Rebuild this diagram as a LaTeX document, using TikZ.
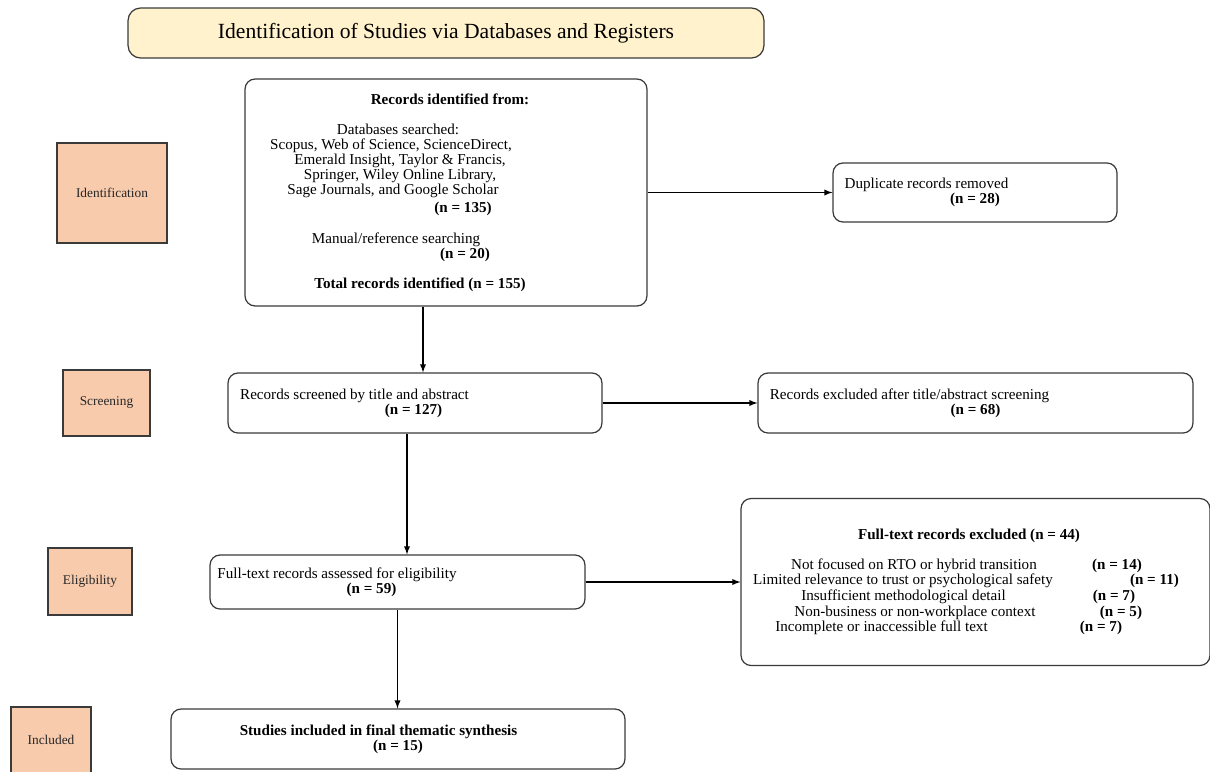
\documentclass[tikz,border=0pt]{standalone}
\usepackage{fontspec}
\setmainfont{Liberation Serif}
\usepackage{xcolor}
\usepackage{tikz}
\usetikzlibrary{arrows}
\usetikzlibrary{positioning}

\definecolor{stagefill}{HTML}{F8CBAD}
\definecolor{titlefill}{HTML}{FFF2CC}
\definecolor{edgegray}{HTML}{3A3A3A}
% one line of a centred block, moved sideways by half of #1
\newcommand{\shline}[2]{\makebox[0pt]{\hspace*{#1}#2}}

\begin{document}
\begin{tikzpicture}[x=0.02cm, y=-0.02cm, >=latex]
          \tikzstyle{stage}=[draw=edgegray,fill=stagefill,line width=0.9pt,text=black!85,inner sep=0pt,font=\fontsize{7.6}{9}\selectfont]
          \tikzstyle{box}=[draw=edgegray,rounded corners=0.2cm,line width=0.7pt,align=center,inner sep=0pt,font=\fontsize{8.6}{8.6}\selectfont]
          \tikzstyle{link}=[->,line width=0.6pt,black]
          \useasboundingbox (0,0) rectangle (1210,771);
          % heading
          \node[box,fill=titlefill,rounded corners=0.25cm,minimum width=12.72cm,minimum height=1cm,font=\fontsize{12.3}{14}\selectfont] (title) at (446,33) {Identification of Studies via Databases and Registers};
          % stages on the left
          \node[stage,minimum width=2.2cm,minimum height=2cm] (identification) at (112,193) {Identification};
          \node[stage,minimum width=1.74cm,minimum height=1.32cm] (screening) at (106.5,403) {Screening};
          \node[stage,minimum width=1.68cm,minimum height=1.34cm] (eligibility) at (90,581.5) {Eligibility};
          \node[stage,minimum width=1.6cm,minimum height=1.32cm] (included) at (51,740) {Included};
          % main column
          \node[box,minimum width=8.04cm,minimum height=4.54cm] (records) at (446,192.5) {
            \shline{0.16cm}{\textbf{Records identified from:}}\\[8.6pt]
            \shline{-1.92cm}{Databases searched:}\\
            \shline{-2.2cm}{Scopus, Web of Science, ScienceDirect,}\\
            \shline{-1.84cm}{Emerald Insight, Taylor \& Francis,}\\
            \shline{-1.84cm}{Springer, Wiley Online Library,}\\
            \shline{-2.12cm}{Sage Journals, and Google Scholar}\\[1.7pt]
            \shline{0.68cm}{\textbf{(n = 135)}}\\[8.6pt]
            \shline{-2cm}{Manual/reference searching}\\
            \shline{0.76cm}{\textbf{(n = 20)}}\\[8.6pt]
            \shline{-1.04cm}{\textbf{Total records identified (n = 155)}}};
          \node[box,minimum width=7.48cm,minimum height=1.2cm] (screened) at (415,403) {\shline{-2.42cm}{Records screened by title and abstract}\\ \shline{-0.06cm}{\textbf{(n = 127)}}};
          \node[box,minimum width=7.5cm,minimum height=1.08cm] (fulltext) at (397.5,582) {\shline{-2.42cm}{Full-text records assessed for eligibility}\\ \shline{-1.04cm}{\textbf{(n = 59)}}};
          \node[box,minimum width=9.08cm,minimum height=1.2cm] (final) at (398,739) {\shline{-0.78cm}{\textbf{Studies included in final thematic synthesis}}\\ \shline{0cm}{\textbf{(n = 15)}}};
          % exclusions on the right
          \node[box,minimum width=5.68cm,minimum height=1.18cm] (duplicates) at (975,192.5) {\shline{-1.94cm}{Duplicate records removed}\\ \shline{0cm}{\textbf{(n = 28)}}};
          \node[box,minimum width=8.7cm,minimum height=1.2cm] (excluded) at (975.5,403) {\shline{-2.64cm}{Records excluded after title/abstract screening}\\ \shline{0cm}{\textbf{(n = 68)}}};
          \node[box,minimum width=9.38cm,minimum height=3.34cm] (ftexcluded) at (975.5,582) {
            \shline{-0.26cm}{\textbf{Full-text records excluded (n = 44)}}\\[8.4pt]
            \shline{-2.46cm}{Not focused on RTO or hybrid transition}\shline{5.66cm}{\textbf{(n = 14)}}\\[0.3pt]
            \shline{-2.9cm}{Limited relevance to trust or psychological safety}\shline{7.16cm}{\textbf{(n = 11)}}\\[0.3pt]
            \shline{-2.88cm}{Insufficient methodological detail}\shline{5.54cm}{\textbf{(n = 7)}}\\[0.3pt]
            \shline{-2.42cm}{Non-business or non-workplace context}\shline{5.82cm}{\textbf{(n = 5)}}\\[0.3pt]
            \shline{-3.76cm}{Incomplete or inaccessible full text}\shline{5.02cm}{\textbf{(n = 7)}}};
          % connectors
          \draw[link] (records.east) -- (duplicates.west);
          \draw[link] ([xshift=-0.46cm]records.south) -- ([xshift=-0.46cm]records.south |- screened.north);
          \draw[link] (screened.east) -- (excluded.west);
          \draw[link] ([xshift=-0.16cm]screened.south) -- ([xshift=-0.16cm]screened.south |- fulltext.north);
          \draw[link] (fulltext.east) -- (ftexcluded.west);
          \draw[link] (fulltext.south) -- (fulltext.south |- final.north);
        \end{tikzpicture}
\end{document}
